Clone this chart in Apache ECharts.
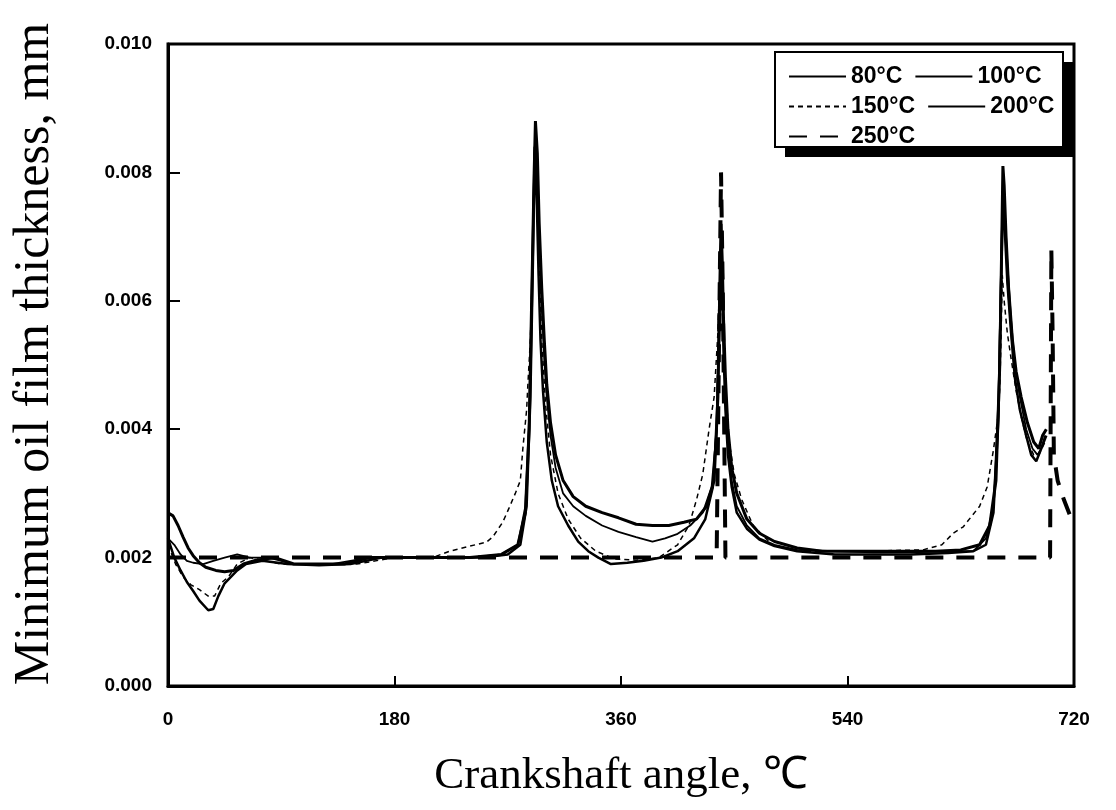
<!DOCTYPE html>
<html>
<head>
<meta charset="utf-8">
<script src="https://cdn.jsdelivr.net/npm/echarts@6/dist/echarts.min.js"></script>
<style>
html,body{margin:0;padding:0;background:#fff;}
#chart{width:1116px;height:810px;}
</style>
</head>
<body>
<div id="chart"></div>
<script>
// ---- Data ----
const xTicks = [0, 180, 360, 540, 720];
const yTicks = [0.000, 0.002, 0.004, 0.006, 0.008, 0.010];
const seriesNames = ['80°C', '100°C', '150°C', '200°C', '250°C'];

const ang80 = [0,4,8,12,16,20,25,30,38,45,52,60,70,85,100,120,140,160,200,240,265,278,284,287,289,291,292,293.5,295,297,299,301,304,308,314,322,332,345,358,372,385,398,410,420,428,434,437,438.5,439.5,440.5,441.5,443,445,448,452,460,470,482,500,520,550,580,610,630,645,653,658,661,662.5,663.5,664.5,666,668,671,674,678,683,688,692,695,698];
const val80 = [0.0027,0.00265,0.0025,0.00232,0.00215,0.00203,0.00192,0.00185,0.0018,0.00178,0.0018,0.0019,0.00196,0.002,0.0019,0.0019,0.0019,0.002,0.002,0.002,0.00205,0.0022,0.0027,0.0040,0.0060,0.0080,0.0088,0.0083,0.0072,0.0062,0.0054,0.0047,0.0041,0.0036,0.0032,0.00295,0.0028,0.0027,0.00262,0.00252,0.0025,0.0025,0.00255,0.0026,0.0028,0.0032,0.0045,0.0062,0.0072,0.0066,0.0057,0.0048,0.0040,0.0034,0.0030,0.0026,0.00238,0.00225,0.00215,0.0021,0.0021,0.0021,0.0021,0.00212,0.0022,0.0025,0.0032,0.0050,0.0068,0.0081,0.0078,0.0070,0.0062,0.0054,0.0049,0.0045,0.0041,0.0038,0.0037,0.0039,0.0040];

const ang100 = [0,5,10,15,20,28,36,45,55,65,80,100,130,160,200,240,265,278,284,287,289,291,292,293.5,295,297,299,301,304,308,314,322,332,345,358,372,385,395,405,415,425,432,436,438,439.5,440.5,441.5,443,445,448,452,460,470,482,500,530,560,590,620,640,650,656,660,662,663.5,665,667,670,673,677,682,687,691,694,697];
const val100 = [0.0023,0.0022,0.00205,0.00195,0.00192,0.0019,0.00195,0.002,0.00205,0.002,0.002,0.0019,0.0019,0.002,0.002,0.002,0.00205,0.0022,0.0028,0.0042,0.0062,0.0082,0.0086,0.0080,0.0069,0.0059,0.0051,0.0045,0.0039,0.0034,0.0030,0.0028,0.00265,0.0025,0.0024,0.00232,0.00225,0.0023,0.00237,0.0025,0.0027,0.0031,0.0040,0.0058,0.0070,0.0064,0.0055,0.0046,0.0038,0.0032,0.0028,0.0025,0.0023,0.0022,0.00212,0.0021,0.00208,0.00208,0.0021,0.0021,0.0023,0.0028,0.0045,0.0065,0.0079,0.0074,0.0066,0.0057,0.0050,0.0045,0.0040,0.0037,0.0036,0.0037,0.0039];

const ang150 = [0,6,12,18,25,32,37,42,48,55,65,90,120,150,180,210,224,238,253,258,266,271,276,280,282,285,286,288,290,291,292,293,295,297,300,304,310,318,328,340,355,372,390,405,414,420,425,430,434,437,439,441,443,446,450,456,465,480,500,550,600,615,624,632,645,651,656,660,661,662,663,664.5,667,670,674,678,683,688,692,697];
const val150 = [0.0022,0.0019,0.0017,0.00158,0.0015,0.0014,0.0014,0.0016,0.0017,0.0019,0.002,0.0019,0.0019,0.0019,0.002,0.002,0.0021,0.00217,0.00224,0.00232,0.00255,0.00277,0.003,0.0032,0.0037,0.0043,0.0047,0.0054,0.0068,0.0082,0.0087,0.0080,0.0066,0.0054,0.0044,0.0036,0.0030,0.0026,0.0023,0.0021,0.00198,0.00196,0.002,0.0022,0.0025,0.0029,0.0033,0.0040,0.0045,0.0055,0.0066,0.0058,0.0047,0.0038,0.0033,0.0029,0.0025,0.0022,0.0021,0.0021,0.00212,0.0022,0.00238,0.00248,0.0028,0.0031,0.00368,0.00425,0.00466,0.0054,0.0064,0.0060,0.0055,0.0051,0.0046,0.0042,0.0038,0.0036,0.0036,0.0038];

const ang200 = [0,5,10,15,20,25,32,36,40,45,50,55,62,75,95,120,145,170,210,250,270,280,285,288,290,291.5,293,294.5,296,298,301,305,310,318,326,334,342,352,365,378,392,405,418,427,433,436,438,439.5,440.5,441.5,443,445,448,452,460,470,482,500,530,560,590,620,640,650,656,660,662,663.5,665,667,670,673,677,682,686,690,694,698];
const val200 = [0.0023,0.0020,0.0018,0.00162,0.00148,0.00133,0.00118,0.0012,0.0014,0.0016,0.0017,0.0018,0.0019,0.00195,0.0019,0.00188,0.0019,0.002,0.002,0.002,0.00205,0.0022,0.0028,0.0045,0.0066,0.0084,0.0076,0.0064,0.0054,0.0046,0.0038,0.0032,0.0028,0.0025,0.00225,0.0021,0.002,0.0019,0.00192,0.00195,0.002,0.0021,0.0023,0.0026,0.0031,0.0040,0.0055,0.0068,0.0061,0.0052,0.0043,0.0036,0.0031,0.0027,0.00245,0.00228,0.00218,0.0021,0.00205,0.00205,0.00205,0.00207,0.0021,0.0022,0.0027,0.0042,0.0062,0.0076,0.0071,0.0063,0.0055,0.0048,0.0043,0.0039,0.0036,0.0035,0.0037,0.0039];

const ang250 = [0,100,200,300,400,436,438,439.5,441,443,500,600,701,702,703,704,707,712,716,720];
const val250 = [0.002,0.002,0.002,0.002,0.002,0.002,0.0055,0.0080,0.0060,0.002,0.002,0.002,0.002,0.0068,0.0055,0.0036,0.0032,0.0029,0.0027,0.0025];

// ---- Build chart ----
function zip(a, v) { return a.map((x, i) => [x, v[i]]); }

const styles = [
  {width: 3, type: 'solid'},
  {width: 1.8, type: 'solid'},
  {width: 1.5, type: [5, 4]},
  {width: 2.5, type: 'solid'},
  {width: 4, type: [18, 13]}
];
const dataSets = [zip(ang80, val80), zip(ang100, val100), zip(ang150, val150), zip(ang200, val200), zip(ang250, val250)];

const chart = echarts.init(document.getElementById('chart'), null, {renderer: 'canvas'});
const sansBold = {fontFamily: 'Liberation Sans, Arial, sans-serif', fontWeight: 'bold', color: '#000'};
const serif = 'Liberation Serif, Times New Roman, serif';

function legendRow(names, top) {
  return {
    data: names, left: 783, top: top, orient: 'horizontal',
    itemWidth: 57, itemHeight: 14, itemGap: 12,
    itemStyle: {opacity: 0},
    textStyle: {fontFamily: 'Liberation Sans, Arial, sans-serif', fontWeight: 'bold', fontSize: 23, color: '#000'},
    z: 10
  };
}

chart.setOption({
  animation: false,
  backgroundColor: '#fff',
  grid: {left: 168, right: 42, top: 44, bottom: 124, show: true, borderColor: '#000', borderWidth: 3, backgroundColor: 'transparent'},
  xAxis: {
    type: 'value', min: xTicks[0], max: xTicks[xTicks.length - 1], interval: 180,
    name: 'Crankshaft angle, \u2103', nameLocation: 'middle', nameGap: 68,
    nameTextStyle: {fontFamily: serif, fontSize: 45, color: '#000'},
    axisLine: {show: true, lineStyle: {color: '#000', width: 3}},
    axisTick: {show: true, inside: true, length: 10, lineStyle: {color: '#000', width: 2}},
    axisLabel: Object.assign({fontSize: 19, margin: 24}, sansBold),
    splitLine: {show: false}
  },
  yAxis: {
    type: 'value', min: yTicks[0], max: yTicks[yTicks.length - 1], interval: 0.002,
    name: 'Minimum oil film thickness, mm', nameLocation: 'middle', nameGap: 108,
    nameTextStyle: {fontFamily: serif, fontSize: 50, color: '#000', padding: [0, 0, 0, 22]},
    axisLine: {show: true, lineStyle: {color: '#000', width: 3}},
    axisTick: {show: true, inside: true, length: 12, lineStyle: {color: '#000', width: 2}},
    axisLabel: Object.assign({fontSize: 19, margin: 16, formatter: v => v.toFixed(3)}, sansBold),
    splitLine: {show: false}
  },
  legend: [
    legendRow([seriesNames[0], seriesNames[1]], 60),
    legendRow([seriesNames[2], seriesNames[3]], 90),
    legendRow([seriesNames[4]], 120)
  ],
  graphic: [
    {type: 'rect', z: 5, shape: {x: 785, y: 62, width: 288, height: 95}, style: {fill: '#000'}},
    {type: 'rect', z: 6, shape: {x: 775, y: 52, width: 288, height: 95}, style: {fill: '#fff', stroke: '#000', lineWidth: 2}}
  ],
  series: seriesNames.map((n, i) => ({
    name: n, type: 'line', data: dataSets[i], symbol: 'none', showSymbol: false,
    lineStyle: {color: '#000', width: styles[i].width, type: styles[i].type},
    itemStyle: {color: '#000'}, z: 2, clip: true
  }))
});
</script>
</body>
</html>
